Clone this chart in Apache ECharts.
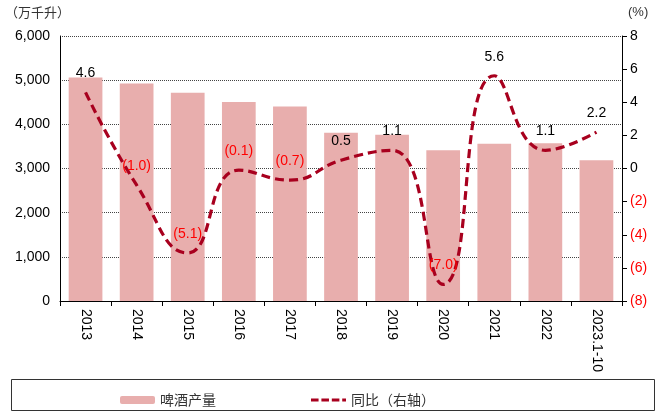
<!DOCTYPE html>
<html>
<head>
<meta charset="utf-8">
<script src="https://cdn.jsdelivr.net/npm/echarts@6/dist/echarts.min.js"></script>
<style>
  html, body { margin: 0; padding: 0; background: #fff; }
  #chart { width: 656px; height: 412px; }
</style>
</head>
<body>
<div id="chart"></div>
<script>
// 数据
var years = ['2013', '2014', '2015', '2016', '2017', '2018', '2019', '2020', '2021', '2022', '2023.1-10'];
var beerOutput = [5062, 4922, 4715, 4506, 4402, 3812, 3765, 3411, 3562, 3569, 3185];
var yoy = [4.6, -1.0, -5.1, -0.1, -0.7, 0.5, 1.1, -7.0, 5.6, 1.1, 2.2];

var numFont = 'Liberation Sans, Arial, sans-serif';
var cjkFont = 'Noto Sans CJK SC, sans-serif';

function fmtPct(v) {
  return v < 0 ? '(' + Math.abs(v).toFixed(1) + ')' : v.toFixed(1);
}

var myChart = echarts.init(document.getElementById('chart'));

var option = {
  animation: false,
  grid: { left: 60, right: 34, top: 36, bottom: 111 },
  legend: {
    left: 115,
    top: 388,
    itemGap: 95,
    itemWidth: 35,
    itemHeight: 8,
    textStyle: { fontFamily: cjkFont, fontSize: 14, color: '#333' },
    data: [
      { name: '啤酒产量' },
      {
        name: '同比（右轴）',
        // 虚线图例
        icon: 'path://M0,0h8v3h-8z M11,0h8v3h-8z M22,0h8v3h-8z M33,0h4v3h-4z',
        itemStyle: { color: '#A8001E' }
      }
    ]
  },
  graphic: [
    {
      type: 'rect',
      shape: { x: 11.5, y: 379.5, width: 643, height: 31 },
      style: { fill: 'none', stroke: '#333', lineWidth: 1 }
    },
    {
      type: 'text', left: 5, top: 6,
      style: { text: '（万千升）', font: '13px ' + cjkFont, fill: '#333' }
    },
    {
      type: 'text', left: 628, top: 6,
      style: { text: '(%)', font: '13px ' + numFont, fill: '#333' }
    }
  ],
  xAxis: {
    type: 'category',
    data: years,
    axisLine: { lineStyle: { color: '#000', width: 1 } },
    axisTick: { show: true, alignWithLabel: false, length: 5, lineStyle: { color: '#000' } },
    axisLabel: {
      interval: 0,
      rotate: -90,
      margin: 8,
      fontFamily: numFont,
      fontSize: 14,
      color: '#000'
    }
  },
  yAxis: [
    {
      type: 'value',
      min: 0,
      max: 6000,
      interval: 1000,
      axisLine: { show: true, lineStyle: { color: '#000' } },
      axisTick: { show: false },
      axisLabel: {
        fontFamily: numFont, fontSize: 14, color: '#000', margin: 10,
        formatter: function (v) { return v.toLocaleString('en-US'); }
      },
      splitLine: { lineStyle: { color: '#444', type: [1, 1], width: 1 } }
    },
    {
      type: 'value',
      min: -8,
      max: 8,
      interval: 2,
      position: 'right',
      axisLine: { show: true, lineStyle: { color: '#000' } },
      axisTick: { show: true, inside: false, length: 5, lineStyle: { color: '#000' } },
      axisLabel: {
        fontFamily: numFont, fontSize: 14, margin: 8,
        formatter: function (v) { return v < 0 ? '{neg|(' + Math.abs(v) + ')}' : '{pos|' + v + '}'; },
        rich: {
          neg: { color: '#ff0000', fontFamily: numFont, fontSize: 14 },
          pos: { color: '#000', fontFamily: numFont, fontSize: 14 }
        }
      },
      splitLine: { show: false }
    }
  ],
  series: [
    {
      name: '啤酒产量',
      type: 'bar',
      barWidth: '66%',
      data: beerOutput,
      itemStyle: { color: '#E8AEAD' }
    },
    {
      name: '同比（右轴）',
      type: 'line',
      yAxisIndex: 1,
      smooth: 0.5,
      symbol: 'none',
      lineStyle: { color: '#A8001E', width: 3.2, type: [9, 5] },
      itemStyle: { color: '#A8001E' },
      data: yoy
    },
    {
      // 只用于显示数据标签
      name: '同比标签',
      type: 'line',
      yAxisIndex: 1,
      symbol: 'circle',
      symbolSize: 0,
      lineStyle: { opacity: 0 },
      silent: true,
      data: yoy.map(function (v) {
        return {
          value: v,
          label: { color: v < 0 ? '#ff0000' : '#000' }
        };
      }),
      label: {
        show: true,
        position: 'top',
        distance: 12,
        fontFamily: numFont,
        fontSize: 14,
        formatter: function (p) { return fmtPct(p.value); }
      }
    }
  ]
};

myChart.setOption(option);
</script>
</body>
</html>
